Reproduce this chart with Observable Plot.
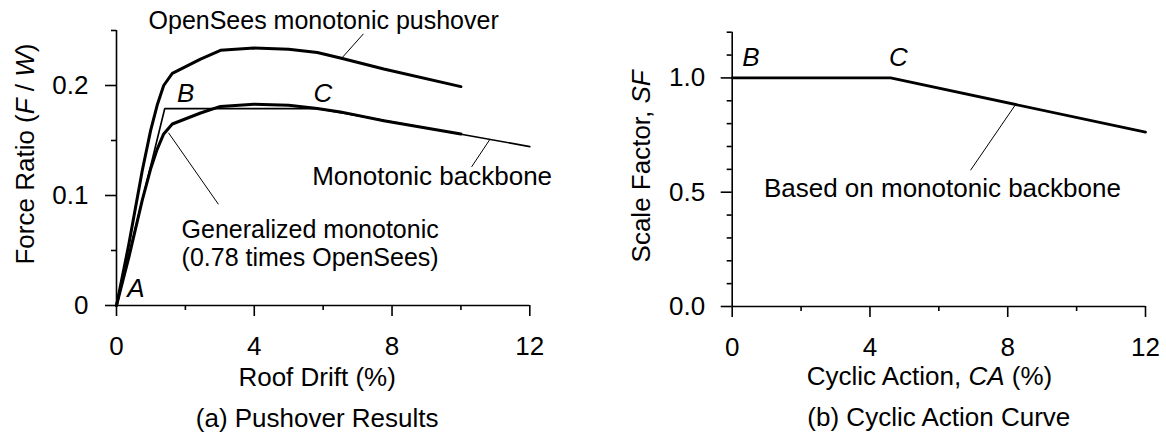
<!DOCTYPE html>
<html><head><meta charset="utf-8">
<script src="https://cdn.jsdelivr.net/npm/d3@7"></script>
<script src="https://cdn.jsdelivr.net/npm/@observablehq/plot@0.6"></script>
<style>
html,body{margin:0;padding:0;background:#fff;}
#wrap{position:relative;width:1166px;height:437px;overflow:hidden;background:#fff;}
#left,#right{position:absolute;top:0;}
#left{left:0;} #right{left:583px;}
</style></head><body><div id="wrap"><div id="left"></div><div id="right"></div></div>
<script>
// ---------- data: (a) pushover results ----------
const drift = [0, 0.36, 0.75, 0.99, 1.18, 1.37, 1.62, 2.44, 3.02, 3.99, 5.0, 5.83, 6.5, 7.76, 10];
const openSeesRatio = [0, 0.056, 0.123, 0.159, 0.182, 0.200, 0.211, 0.224, 0.232, 0.234, 0.233, 0.230, 0.225, 0.215, 0.199];
const generalizedRatio = [0, 0.044, 0.096, 0.124, 0.142, 0.156, 0.165, 0.175, 0.181, 0.183, 0.182, 0.179, 0.176, 0.168, 0.156];
const backboneDrift = [0, 1.4, 5.85, 12];
const backboneRatio = [0, 0.179, 0.179, 0.1445];
const driftTicks = [0, 4, 8, 12];
const driftMinorTicks = [2, 6, 10];
const ratioTicks = [0, 0.1, 0.2];
const ratioMinorTicks = [0.05, 0.15, 0.25];
const topLabel = ["OpenSees monotonic pushover"];
const topLabelX = [0.93];
const topLabelY = [0.2518];
const backboneLabel = ["Monotonic backbone"];
const backboneLabelX = [5.68];
const backboneLabelY = [0.110];
const generalizedLabel = ["Generalized monotonic\n(0.78 times OpenSees)"];
const generalizedLabelX = [1.89];
const generalizedLabelY = [0.0355];
const leftPoints = ["A", "B", "C"];
const leftPointX = [0.31, 1.76, 5.72];
const leftPointY = [0.0075, 0.1848, 0.1848];
const leftLeaderX1 = [7.17, 1.51, 10.83];
const leftLeaderY1 = [0.247, 0.157, 0.1505];
const leftLeaderX2 = [6.53, 2.96, 10.31];
const leftLeaderY2 = [0.2245, 0.092, 0.126];

// ---------- data: (b) cyclic action curve ----------
const cyclicAction = [0, 4.6, 12];
const scaleFactor = [1.0, 1.0, 0.763];
const caTicks = [0, 4, 8, 12];
const caMinorTicks = [2, 6, 10];
const sfTicks = [0, 0.5, 1.0];
const sfMinorTicks = [0.1, 0.2, 0.3, 0.4, 0.6, 0.7, 0.8, 0.9, 1.1, 1.2];
const rightLabels = ["Based on monotonic backbone"];
const rightLabelX = [0.92];
const rightLabelY = [0.48];
const rightPoints = ["B", "C"];
const rightPointX = [0.29, 4.55];
const rightPointY = [1.051, 1.051];
const rightLeaderX1 = [8.23], rightLeaderY1 = [0.884], rightLeaderX2 = [6.92], rightLeaderY2 = [0.596];

// ---------- build ----------
const FONT = '"Liberation Sans", Arial, Helvetica, sans-serif';
const style = {fontFamily: FONT, fontSize: "26px", color: "#000", background: "#fff", overflow: "visible"};
const zip = (xs, ys, extra) => xs.map((x, i) => ({x, y: ys[i], ...(extra ? {t: extra[i]} : {})}));
const links = (x1, y1, x2, y2) => x1.map((_, i) => ({x1: x1[i], y1: y1[i], x2: x2[i], y2: y2[i]}));
const AX = 1.6;

function italicize(svg, full, parts) {
  svg.querySelectorAll("text").forEach(t => {
    if (t.textContent === full) {
      t.textContent = "";
      parts.forEach(([s, it]) => {
        const ts = document.createElementNS("http://www.w3.org/2000/svg", "tspan");
        ts.textContent = s;
        if (it) ts.setAttribute("font-style", "italic");
        t.appendChild(ts);
      });
    }
  });
}

const left = Plot.plot({
  width: 583, height: 437,
  marginLeft: 116, marginRight: 53.7, marginTop: 30, marginBottom: 132,
  style,
  x: {domain: [0, 12]},
  y: {domain: [0, 0.25]},
  marks: [
    Plot.axisX({ticks: driftTicks, tickSize: 11, tickPadding: 20, tickFormat: d => String(d), strokeWidth: AX, label: null}),
    Plot.axisX({ticks: driftMinorTicks, tickSize: 5, tickFormat: () => "", strokeWidth: AX, label: null}),
    Plot.axisY({ticks: ratioTicks, tickSize: 11, tickPadding: 17, tickFormat: d => d === 0 ? "0" : d.toFixed(1), strokeWidth: AX, label: null}),
    Plot.axisY({ticks: ratioMinorTicks, tickSize: 5, tickFormat: () => "", strokeWidth: AX, label: null}),
    Plot.ruleY([0], {strokeWidth: AX}),
    Plot.ruleX([0], {strokeWidth: AX}),
    Plot.line(zip(drift, openSeesRatio), {x: "x", y: "y", strokeWidth: 3, strokeLinejoin: "round"}),
    Plot.line(zip(drift, generalizedRatio), {x: "x", y: "y", strokeWidth: 3, strokeLinejoin: "round"}),
    Plot.line(zip(backboneDrift, backboneRatio), {x: "x", y: "y", strokeWidth: 1.7, strokeLinejoin: "miter"}),
    Plot.link(links(leftLeaderX1, leftLeaderY1, leftLeaderX2, leftLeaderY2), {x1: "x1", y1: "y1", x2: "x2", y2: "y2", strokeWidth: 1}),
    Plot.text(zip(topLabelX, topLabelY, topLabel), {x: "x", y: "y", text: "t", textAnchor: "start", lineAnchor: "bottom", fontSize: 25}),
    Plot.text(zip(backboneLabelX, backboneLabelY, backboneLabel), {x: "x", y: "y", text: "t", textAnchor: "start", lineAnchor: "bottom", fontSize: 26}),
    Plot.text(zip(generalizedLabelX, generalizedLabelY, generalizedLabel), {x: "x", y: "y", text: "t", textAnchor: "start", lineAnchor: "bottom", lineHeight: 1.13, fontSize: 25}),
    Plot.text(zip(leftPointX, leftPointY, leftPoints), {x: "x", y: "y", text: "t", textAnchor: "start", lineAnchor: "bottom", fontSize: 26, fontStyle: "italic"}),
    Plot.text(["Force Ratio (F / W)"], {text: d => d, frameAnchor: "left", rotate: -90, dx: -82.7, dy: -14, textAnchor: "middle", lineAnchor: "bottom", fontSize: 26}),
    Plot.text(["Roof Drift (%)"], {text: d => d, frameAnchor: "bottom", dx: -6, dy: 80, textAnchor: "middle", lineAnchor: "bottom", fontSize: 26}),
    Plot.text(["(a) Pushover Results"], {text: d => d, frameAnchor: "bottom", dx: -6, dy: 121, textAnchor: "middle", lineAnchor: "bottom", fontSize: 26})
  ]
});
italicize(left, "Force Ratio (F / W)", [["Force Ratio (", false], ["F", true], [" / ", false], ["W", true], [")", false]]);
document.getElementById("left").appendChild(left);

const right = Plot.plot({
  width: 583, height: 437,
  marginLeft: 148.7, marginRight: 21, marginTop: 31.7, marginBottom: 131,
  style,
  x: {domain: [0, 12]},
  y: {domain: [0, 1.2]},
  marks: [
    Plot.axisX({ticks: caTicks, tickSize: 11, tickPadding: 20, tickFormat: d => String(d), strokeWidth: AX, label: null}),
    Plot.axisX({ticks: caMinorTicks, tickSize: 5, tickFormat: () => "", strokeWidth: AX, label: null}),
    Plot.axisY({ticks: sfTicks, tickSize: 11, tickPadding: 16, tickFormat: d => d.toFixed(1), strokeWidth: AX, label: null}),
    Plot.axisY({ticks: sfMinorTicks, tickSize: 5, tickFormat: () => "", strokeWidth: AX, label: null}),
    Plot.ruleY([0], {strokeWidth: AX}),
    Plot.ruleX([0], {strokeWidth: AX}),
    Plot.line(zip(cyclicAction, scaleFactor), {x: "x", y: "y", strokeWidth: 2.8, strokeLinejoin: "round"}),
    Plot.link(links(rightLeaderX1, rightLeaderY1, rightLeaderX2, rightLeaderY2), {x1: "x1", y1: "y1", x2: "x2", y2: "y2", strokeWidth: 1}),
    Plot.text(zip(rightLabelX, rightLabelY, rightLabels), {x: "x", y: "y", text: "t", textAnchor: "start", lineAnchor: "bottom", fontSize: 26}),
    Plot.text(zip(rightPointX, rightPointY, rightPoints), {x: "x", y: "y", text: "t", textAnchor: "start", lineAnchor: "bottom", fontSize: 26, fontStyle: "italic"}),
    Plot.text(["Scale Factor, SF"], {text: d => d, frameAnchor: "left", rotate: -90, dx: -82.2, dy: -3, textAnchor: "middle", lineAnchor: "bottom", fontSize: 26}),
    Plot.text(["Cyclic Action, CA (%)"], {text: d => d, frameAnchor: "bottom", dx: -9.4, dy: 78, textAnchor: "middle", lineAnchor: "bottom", fontSize: 26}),
    Plot.text(["(b) Cyclic Action Curve"], {text: d => d, frameAnchor: "bottom", dx: 0, dy: 119, textAnchor: "middle", lineAnchor: "bottom", fontSize: 26})
  ]
});
italicize(right, "Scale Factor, SF", [["Scale Factor, ", false], ["SF", true]]);
italicize(right, "Cyclic Action, CA (%)", [["Cyclic Action, ", false], ["CA", true], [" (%)", false]]);
document.getElementById("right").appendChild(right);
</script></body></html>
